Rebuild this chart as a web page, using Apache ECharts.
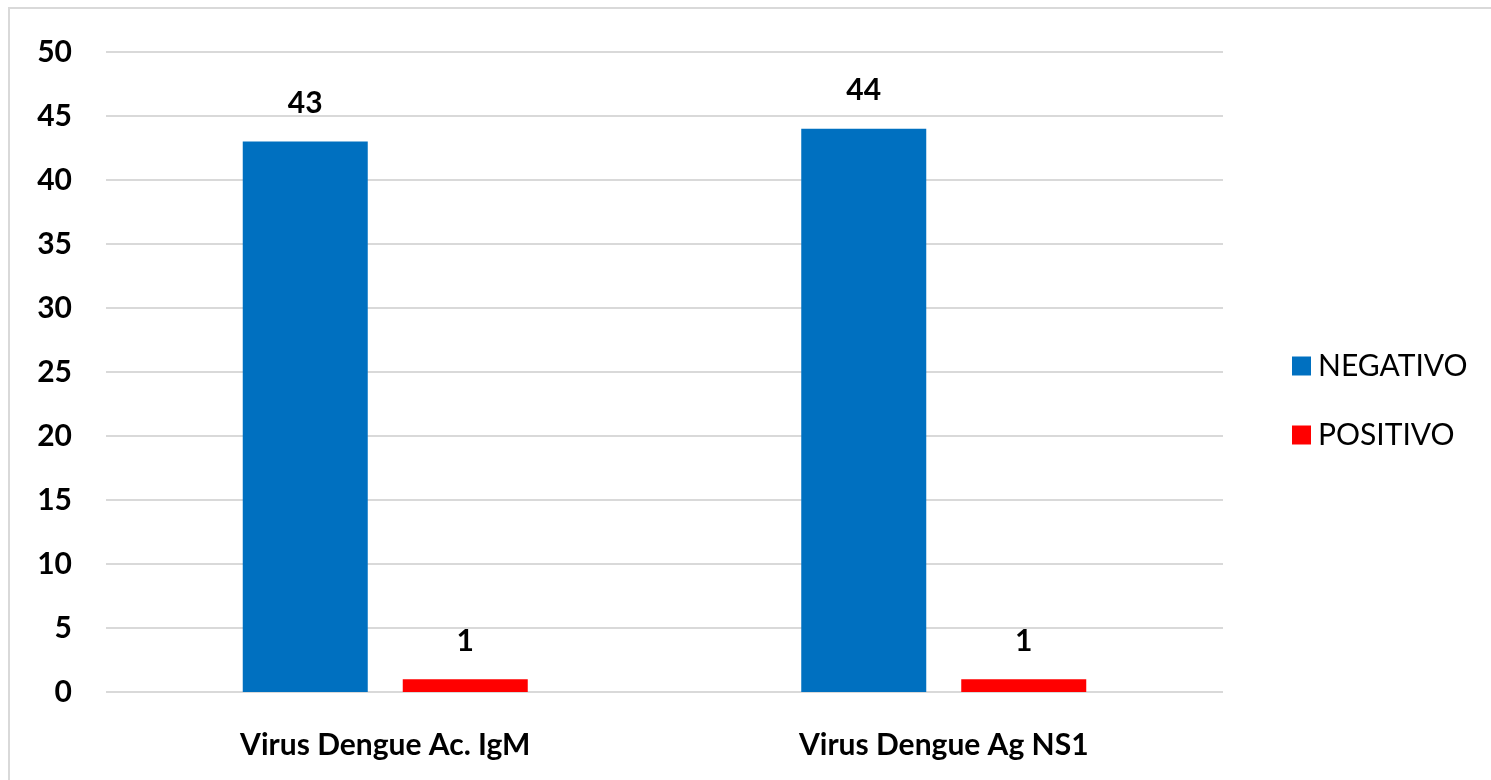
<!DOCTYPE html>
<html><head><meta charset="utf-8">
<script src="https://cdn.jsdelivr.net/npm/echarts@6/dist/echarts.min.js"></script>
<style>html,body{margin:0;padding:0;background:#fff}#c{width:1491px;height:780px}</style>
</head><body><div id="c"></div>
<script>
const categories = ["Virus Dengue Ac. IgM", "Virus Dengue Ag NS1"];
const negativo = [43, 44];
const positivo = [1, 1];
const yTicks = {min: 0, max: 50, interval: 5};
const FONT = "Lato, 'Open Sans', sans-serif";
const chart = echarts.init(document.getElementById('c'));
chart.setOption({
  backgroundColor: '#fff',
  animation: false,
  graphic: [{type: 'rect', shape: {x: 9, y: 8, width: 1700, height: 900},
    style: {fill: 'none', stroke: '#d9d9d9', lineWidth: 2}, silent: true}],
  grid: {left: 106, right: 268, top: 52, bottom: 88},
  legend: {
    orient: 'vertical', left: 1287, top: 346, itemWidth: 19, itemHeight: 19, itemGap: 39,
    icon: 'rect',
    textStyle: {fontFamily: FONT, fontSize: 30, color: '#000', padding: [0,0,0,2]},
    data: ['NEGATIVO', 'POSITIVO']
  },
  xAxis: {
    type: 'category', data: categories,
    axisLine: {show: false}, axisTick: {show: false},
    axisLabel: {fontFamily: FONT, fontSize: 30, fontWeight: 'bold', color: '#000', margin: 38}
  },
  yAxis: {
    type: 'value', min: yTicks.min, max: yTicks.max, interval: yTicks.interval,
    axisLine: {show: false}, axisTick: {show: false},
    axisLabel: {fontFamily: FONT, fontSize: 30, fontWeight: 'bold', color: '#000', margin: 34},
    splitLine: {lineStyle: {color: '#d9d9d9', width: 2}}
  },
  series: [
    {name: 'NEGATIVO', type: 'bar', data: negativo, barWidth: 125, barGap: '28%',
      itemStyle: {color: '#0070c0'},
      label: {show: true, position: 'top', distance: 23, fontFamily: FONT, fontSize: 30, fontWeight: 'bold', color: '#000'}},
    {name: 'POSITIVO', type: 'bar', data: positivo, barWidth: 125,
      itemStyle: {color: '#ff0000'},
      label: {show: true, position: 'top', distance: 23, fontFamily: FONT, fontSize: 30, fontWeight: 'bold', color: '#000'}}
  ]
});
</script></body></html>
